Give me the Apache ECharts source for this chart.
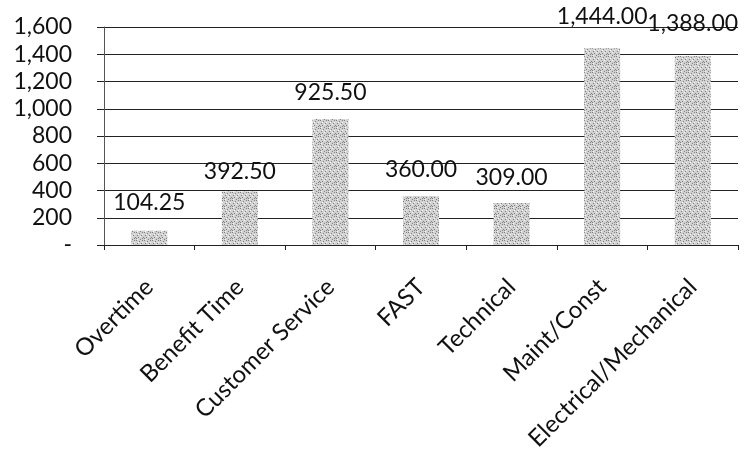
<!DOCTYPE html>
<html>
<head>
<meta charset="utf-8">
<script src="https://cdn.jsdelivr.net/npm/echarts@6/dist/echarts.min.js"></script>
<style>
  html, body { margin: 0; padding: 0; background: #fff; }
  #chart { width: 745px; height: 454px; }
</style>
</head>
<body>
<div id="chart"></div>
<script>
// Hours by category
const categories = ['Overtime', 'Benefit Time', 'Customer Service', 'FAST', 'Technical', 'Maint/Const', 'Electrical/Mechanical'];
const hours = [104.25, 392.50, 925.50, 360.00, 309.00, 1444.00, 1388.00];
const yTicks = [0, 200, 400, 600, 800, 1000, 1200, 1400, 1600];

// vertical nudges (px) for individual value labels
const labelNudge = [-2, 7, 0, 0, 1, -5, -6];

function withCommas(n, decimals) {
  const s = n.toFixed(decimals);
  const parts = s.split('.');
  parts[0] = parts[0].replace(/\B(?=(\d{3})+(?!\d))/g, ',');
  return parts.join('.');
}

// speckled grey fill for the bars
function speckleTile() {
  const c = document.createElement('canvas');
  c.width = 8; c.height = 8;
  const g = c.getContext('2d');
  g.fillStyle = '#d2d2d2';
  g.fillRect(0, 0, 8, 8);
  const dark = [[0,0],[3,1],[6,0],[1,3],[5,3],[2,5],[7,5],[0,6],[4,7],[6,6]];
  g.fillStyle = '#7f7f7f';
  dark.forEach(p => g.fillRect(p[0], p[1], 1, 1));
  const light = [[2,2],[6,2],[4,4],[1,7]];
  g.fillStyle = '#f4f4f4';
  light.forEach(p => g.fillRect(p[0], p[1], 1, 1));
  return c;
}

const chart = echarts.init(document.getElementById('chart'));
const fontFamily = 'Lato, "Open Sans", sans-serif';

chart.setOption({
  animation: false,
  grid: { left: 104, right: 7, top: 27, bottom: 209, containLabel: false },
  xAxis: {
    type: 'category',
    data: categories,
    boundaryGap: true,
    axisLine: { lineStyle: { color: '#222', width: 1 } },
    axisTick: { show: true, length: 5, lineStyle: { color: '#222' } },
    axisLabel: {
      rotate: 45,
      margin: 38,
      color: '#111',
      fontFamily: fontFamily,
      fontSize: 24,
      interval: 0
    }
  },
  yAxis: {
    type: 'value',
    min: yTicks[0],
    max: yTicks[yTicks.length - 1],
    interval: 200,
    axisLine: { show: true, lineStyle: { color: '#555', width: 1 } },
    axisTick: { show: true, length: 7, lineStyle: { color: '#222' } },
    splitLine: { show: true, lineStyle: { color: '#222', width: 1 } },
    axisLabel: {
      margin: 32,
      color: '#111',
      fontFamily: fontFamily,
      fontSize: 23,
      formatter: v => v === 0 ? '-' : withCommas(v, 0)
    }
  },
  series: [{
    type: 'bar',
    barWidth: 36,
    data: hours.map((v, i) => ({
      value: v,
      label: { offset: [0, labelNudge[i]] }
    })),
    itemStyle: {
      color: { image: speckleTile(), repeat: 'repeat' }
    },
    label: {
      show: true,
      position: 'top',
      distance: 15,
      color: '#111',
      fontFamily: fontFamily,
      fontSize: 23,
      formatter: p => withCommas(p.value, 2)
    }
  }]
});
</script>
</body>
</html>
